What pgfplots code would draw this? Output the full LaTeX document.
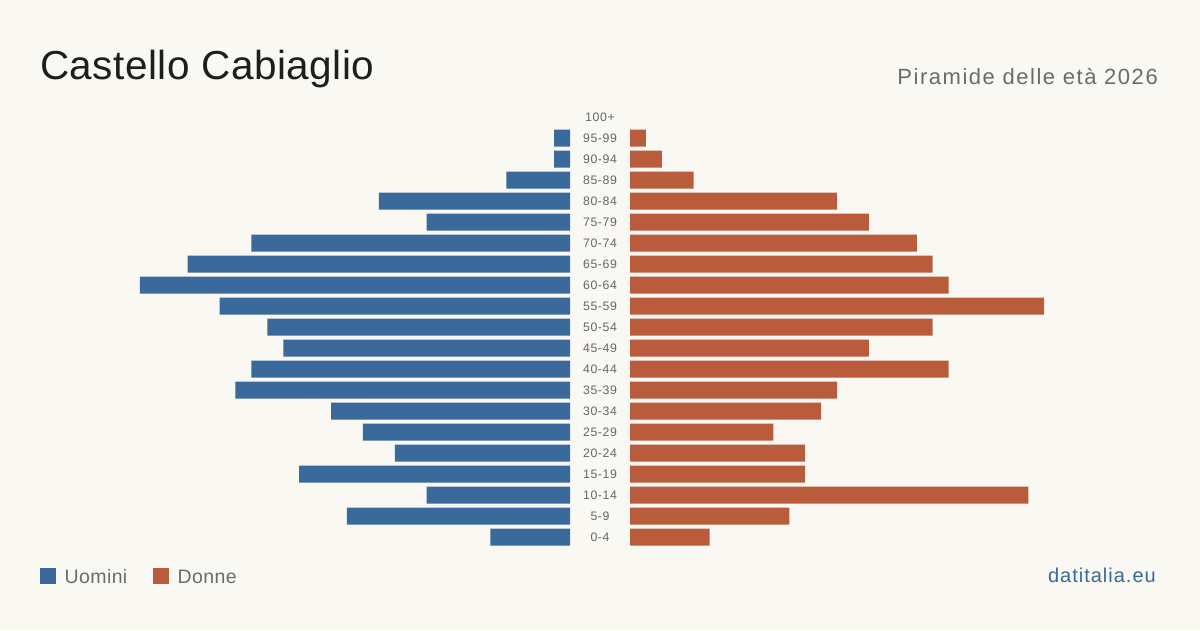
\documentclass[border=0pt]{standalone}
\usepackage{pgfplots}
\pgfplotsset{compat=1.18}
\usepackage{fontspec}
\setmainfont{Liberation Sans}
\newfontfamily\titfont[LetterSpace=1.2]{Liberation Sans}
\newfontfamily\subfont[LetterSpace=7]{Liberation Sans}
\newfontfamily\labfont[LetterSpace=5]{Liberation Sans}
\newfontfamily\legfont[LetterSpace=2]{Liberation Sans}
\definecolor{bg}{HTML}{F9F8F3}
\definecolor{menc}{HTML}{3A6A9B}
\definecolor{womc}{HTML}{B95C3B}
\definecolor{titc}{HTML}{1E1E1E}
\definecolor{subc}{HTML}{6B6B6B}
\definecolor{labc}{HTML}{666666}
\begin{document}
\begin{tikzpicture}
\fill[bg] (0pt,0pt) rectangle (1200pt,-630pt);
% Men
\begin{axis}[at={(570pt,-547.5pt)}, anchor=south east, scale only axis,
  width=430.1pt, height=441pt, xmin=0, xmax=27, ymin=-0.5, ymax=20.5,
  x dir=reverse, hide axis, xbar, bar width=17pt]
\addplot[fill=menc, draw=none] coordinates {
(5,0) (14,1) (9,2) (17,3) (11,4) (13,5) (15,6) (21,7) (20,8) (18,9)
(19,10) (22,11) (27,12) (24,13) (20,14) (9,15) (12,16) (4,17) (1,18) (1,19)};
\end{axis}
% Women
\begin{axis}[at={(630pt,-547.5pt)}, anchor=south west, scale only axis,
  width=414.2pt, height=441pt, xmin=0, xmax=26, ymin=-0.5, ymax=20.5,
  hide axis, xbar, bar width=17pt]
\addplot[fill=womc, draw=none] coordinates {
(5,0) (10,1) (25,2) (11,3) (11,4) (9,5) (12,6) (13,7) (20,8) (15,9)
(19,10) (26,11) (20,12) (19,13) (18,14) (15,15) (13,16) (4,17) (2,18) (1,19)};
\end{axis}
\foreach \lab [count=\i from 0] in {0-4,5-9,10-14,15-19,20-24,25-29,30-34,35-39,40-44,45-49,50-54,55-59,60-64,65-69,70-74,75-79,80-84,85-89,90-94,95-99,100+}
  \node[anchor=base, inner sep=0pt, text=labc, font=\labfont\fontsize{12.3}{14}\selectfont] at (600pt,{-541.5pt+21pt*\i}) {\lab};
\node[anchor=base west, inner sep=0pt, text=titc, font=\titfont\fontsize{40.5}{48}\selectfont] at (40pt,-79.5pt) {Castello Cabiaglio};
\node[anchor=base east, inner sep=0pt, text=subc, font=\subfont\fontsize{22}{26}\selectfont] at (1158pt,-84pt) {Piramide delle età 2026};
\fill[menc] (40pt,-568pt) rectangle (56pt,-584pt);
\node[anchor=base west, inner sep=0pt, text=subc, font=\legfont\fontsize{19.5}{24}\selectfont] at (64.5pt,-583.3pt) {Uomini};
\fill[womc] (153pt,-568pt) rectangle (169pt,-584pt);
\node[anchor=base west, inner sep=0pt, text=subc, font=\legfont\fontsize{19.5}{24}\selectfont] at (177.5pt,-583.3pt) {Donne};
\node[anchor=base east, inner sep=0pt, text=menc, font=\labfont\fontsize{20}{24}\selectfont] at (1156pt,-582.5pt) {datitalia.eu};
\end{tikzpicture}
\end{document}
